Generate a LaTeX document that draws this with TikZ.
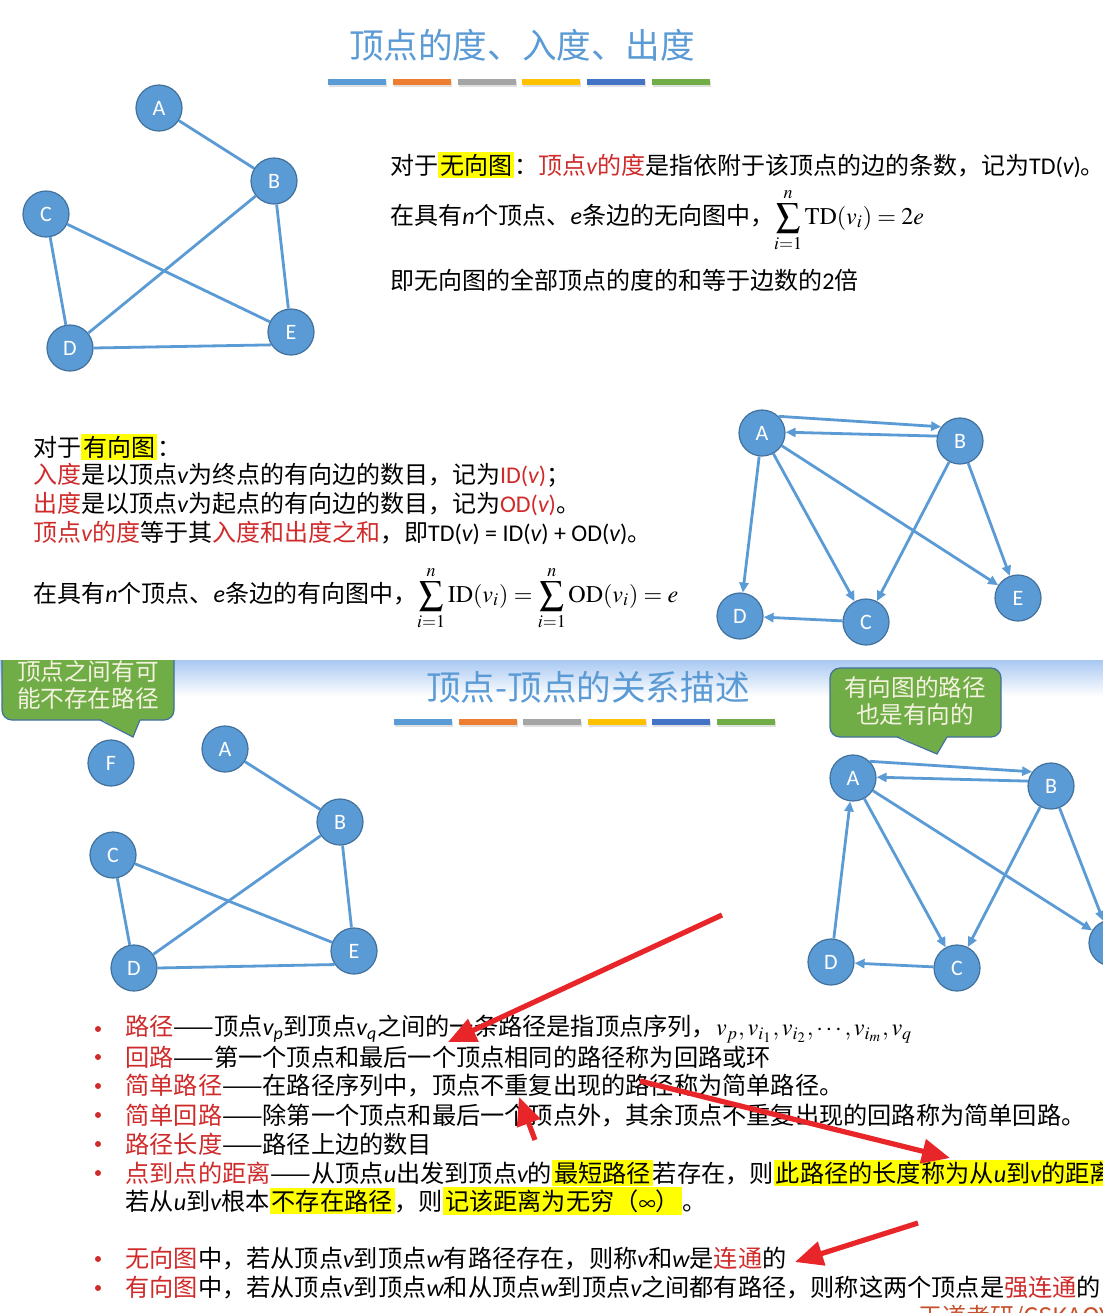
\documentclass[tikz,border=0pt]{standalone}
\usepackage{mathptmx}
\usepackage{fontspec}
\setmainfont{Noto Sans CJK SC}
\newfontfamily\lat{Carlito}
\usetikzlibrary{arrows.meta}

\definecolor{nodeblue}{HTML}{5B9BD5}
\definecolor{nodeline}{HTML}{41719C}
\definecolor{txtred}{HTML}{D02B2B}
\definecolor{hlyellow}{HTML}{FFFF00}
\definecolor{callgreen}{HTML}{70AD47}
\definecolor{calltext}{HTML}{F5F2E0}
\definecolor{arrowred}{HTML}{E8262A}
\definecolor{bandblue}{HTML}{A8C8F2}
\definecolor{footred}{HTML}{C5502A}
\definecolor{barA}{HTML}{5B9BD5}
\definecolor{barB}{HTML}{ED7D31}
\definecolor{barC}{HTML}{A5A5A5}
\definecolor{barD}{HTML}{FFC000}
\definecolor{barE}{HTML}{4472C4}
\definecolor{barF}{HTML}{70AD47}

\newcommand\vv[1]{{\lat\itshape #1}}
\newcommand\rd[1]{\textcolor{txtred}{#1}}
\newcommand\hl[1]{{\setlength\fboxsep{1pt}\colorbox{hlyellow}{#1}}}

\begin{document}
\begin{tikzpicture}[x=0.5pt, y=-0.5pt,
    gnode/.style={circle, fill=nodeblue, draw=nodeline, line width=0.6pt,
      minimum size=23pt, inner sep=0pt, text=white, font=\lat\fontsize{11}{13}\selectfont},
    uedge/.style={draw=nodeblue, line width=1.4pt},
    dedge/.style={uedge, -{Triangle[length=5pt,width=4.5pt]}},
    slidetitle/.style={text=nodeblue, inner sep=0pt, font=\fontsize{17.3}{20}\selectfont},
    toptxt/.style={anchor=west, inner sep=0pt, font=\fontsize{12}{14}\selectfont},
    bottxt/.style={anchor=west, inner sep=0pt, font=\fontsize{12.1}{15}\selectfont},
    callbox/.style={fill=callgreen, draw=nodeline, line width=0.6pt, rounded corners=5pt},
    calledge/.style={draw=nodeline, line width=0.6pt, line join=miter},
    callnote/.style={align=center, inner sep=0pt, text=calltext,
      font=\fontsize{11.8}{13.5}\selectfont},
    redarrow/.style={draw=arrowred, line width=2.6pt, -{Triangle[length=14pt,width=12pt]}}]

    \clip (0,0) rectangle (1103,1313);
    \fill[white] (0,0) rectangle (1103,1313);

    % ---------- top slide ----------
    \node[slidetitle] (toptitle) at (522,45) {顶点的度、入度、出度};
    \foreach \c [count=\i from 0] in {barA,barB,barC,barD,barE,barF} {
        \fill[black!12] (329+\i*64.8,81) rectangle ++(58,6);
        \fill[\c] (328+\i*64.8,79) rectangle ++(58,6);
    }

    % undirected graph
    \node[gnode] (ua) at (159,108) {A};
    \node[gnode] (ub) at (274,181) {B};
    \node[gnode] (uc) at (46,214) {C};
    \node[gnode] (ud) at (70,348) {D};
    \node[gnode] (ue) at (291,332) {E};
    \draw[uedge] (ua) -- (ub);
    \draw[uedge] (ub) -- (ud);
    \draw[uedge] (ub) -- (ue);
    \draw[uedge] (uc) -- (ud);
    \draw[uedge] (uc) -- (ue);
    \draw[uedge] (ud.0) -- (ue.213);

    \node[toptxt] (ut1) at (390,165) {对于\hl{无向图}：\rd{顶点\vv{v}的度}是指依附于该顶点的边的条数，记为{\lat TD(\vv{v})}。};
    \node[toptxt] (ut2) at (390,220) {在具有\vv{n}个顶点、\vv{e}条边的无向图中，$\displaystyle\sum_{i=1}^{n}\mathrm{TD}(v_i)=2e$};
    \node[toptxt] (ut3) at (390,280) {即无向图的全部顶点的度的和等于边数的{\lat 2}倍};

    % directed text
    \node[toptxt] (dt0) at (33,447) {对于\hl{有向图}：};
    \node[toptxt] (dt1) at (33,475) {\rd{入度}是以顶点\vv{v}为终点的有向边的数目，记为\rd{\lat ID(\vv{v})}；};
    \node[toptxt] (dt2) at (33,504) {\rd{出度}是以顶点\vv{v}为起点的有向边的数目，记为\rd{\lat OD(\vv{v})}。};
    \node[toptxt] (dt3) at (33,533) {\rd{顶点\vv{v}的度}等于其\rd{入度和出度之和}，即{\lat TD(\vv{v}) = ID(\vv{v}) + OD(\vv{v})}。};
    \node[toptxt] (dt4) at (33,598) {在具有\vv{n}个顶点、\vv{e}条边的有向图中，$\displaystyle\sum_{i=1}^{n}\mathrm{ID}(v_i)=\sum_{i=1}^{n}\mathrm{OD}(v_i)=e$};

    % directed graph
    \node[gnode] (da) at (762,433) {A};
    \node[gnode] (db) at (960,441) {B};
    \node[gnode] (dc) at (866,622) {C};
    \node[gnode] (dd) at (740,616) {D};
    \node[gnode] (de) at (1018,598) {E};
    \draw[dedge] (da.45) -- (db.143);
    \draw[dedge] (db.168) -- (da.2);
    \draw[dedge] (da) -- (dd);
    \draw[dedge] (da) -- (dc);
    \draw[dedge] (da) -- (de);
    \draw[dedge] (db) -- (dc);
    \draw[dedge] (db) -- (de);
    \draw[dedge] (dc) -- (dd);

    % ---------- bottom slide ----------
    \shade[top color=bandblue, bottom color=white] (0,660) rectangle (1103,696);

    \begin{scope}
        \clip (0,660) rectangle (1103,1313);
        \filldraw[callbox] (2,600) rectangle (174,720);
        \fill[callgreen] (100,719) -- (133,737) -- (140,719) -- cycle;
        \draw[calledge] (100,720) -- (133,737) -- (140,720);
        \node[callnote] (gapnote) at (88,685) {顶点之间有可\\能不存在路径};
    \end{scope}

    \filldraw[callbox] (830,668) rectangle (1001,737);
    \fill[callgreen] (897,736) -- (937,754) -- (947,736) -- cycle;
    \draw[calledge] (897,737) -- (937,754) -- (947,737);
    \node[callnote] (pathnote) at (915,701) {有向图的路径\\也是有向的};

    \node[slidetitle] (bottitle) at (588,687) {顶点-顶点的关系描述};
    \foreach \c [count=\i from 0] in {barA,barB,barC,barD,barE,barF} {
        \fill[black!12] (395+\i*64.6,721) rectangle ++(58,6);
        \fill[\c] (394+\i*64.6,719) rectangle ++(58,6);
    }

    % undirected graph with isolated F
    \node[gnode] (pf) at (111,763) {F};
    \node[gnode] (pa) at (225,749) {A};
    \node[gnode] (pb) at (340,822) {B};
    \node[gnode] (pc) at (113,855) {C};
    \node[gnode] (pd) at (134,968) {D};
    \node[gnode] (pe) at (354,951) {E};
    \draw[uedge] (pa) -- (pb);
    \draw[uedge] (pb) -- (pd);
    \draw[uedge] (pb) -- (pe);
    \draw[uedge] (pc) -- (pd);
    \draw[uedge] (pc) -- (pe);
    \draw[uedge] (pd.0) -- (pe.215);

    % directed graph, E partly off the page
    \node[gnode] (qa) at (853,778) {A};
    \node[gnode] (qb) at (1051,786) {B};
    \node[gnode] (qc) at (957,968) {C};
    \node[gnode] (qd) at (831,962) {D};
    \node[gnode] (qe) at (1112,943) {E};
    \draw[dedge] (qa.45) -- (qb.143);
    \draw[dedge] (qb.168) -- (qa.2);
    \draw[dedge] (qd) -- (qa);
    \draw[dedge] (qa) -- (qc);
    \draw[dedge] (qa) -- (qe);
    \draw[dedge] (qb) -- (qc);
    \draw[dedge] (qb) -- (qe);
    \draw[dedge] (qc) -- (qd);

    % bullet list
    \foreach \y in {1029,1057,1086,1115,1144,1173,1259,1288}
        \fill[txtred] (98,\y) circle (3);
    \node[bottxt] (b1) at (125,1029) {\rd{路径}——顶点\vv{v}\textsubscript{\vv{p}}到顶点\vv{v}\textsubscript{\vv{q}}之间的一条路径是指顶点序列，$v_p, v_{i_1}, v_{i_2}, \cdots, v_{i_m}, v_q$};
    \node[bottxt] (b2) at (125,1057) {\rd{回路}——第一个顶点和最后一个顶点相同的路径称为回路或环};
    \node[bottxt] (b3) at (125,1086) {\rd{简单路径}——在路径序列中，顶点不重复出现的路径称为简单路径。};
    \node[bottxt] (b4) at (125,1115) {\rd{简单回路}——除第一个顶点和最后一个顶点外，其余顶点不重复出现的回路称为简单回路。};
    \node[bottxt] (b5) at (125,1144) {\rd{路径长度}——路径上边的数目};
    \node[bottxt] (b6) at (125,1173) {\rd{点到点的距离}——从顶点\vv{u}出发到顶点\vv{v}的\hl{最短路径}若存在，则\hl{此路径的长度称为从\vv{u}到\vv{v}的距离}};
    \node[bottxt] (b7) at (125,1201) {若从\vv{u}到\vv{v}根本\hl{不存在路径}，则\hl{记该距离为无穷（$\infty$）}。};
    \node[bottxt] (b8) at (125,1259) {\rd{无向图}中，若从顶点\vv{v}到顶点\vv{w}有路径存在，则称\vv{v}和\vv{w}是\rd{连通}的};
    \node[bottxt] (b9) at (125,1288) {\rd{有向图}中，若从顶点\vv{v}到顶点\vv{w}和从顶点\vv{w}到顶点\vv{v}之间都有路径，则称这两个顶点是\rd{强连通}的};

    \node[anchor=north west, inner sep=0pt, text=footred, font=\fontsize{12}{14}\selectfont]
        (footer) at (918,1305) {王道考研/CSKAOYAN.COM};

    % red marks
    \coordinate (r1s) at (722,915);
    \coordinate (r1e) at (448,1042);
    \coordinate (r2s) at (640,1081);
    \coordinate (r2e) at (950,1158);
    \coordinate (r3s) at (535,1140);
    \coordinate (r3e) at (519,1097);
    \coordinate (r4s) at (918,1223);
    \coordinate (r4e) at (795,1262);
    \draw[redarrow] (r1s) -- (r1e);
    \draw[redarrow] (r2s) -- (r2e);
    \draw[redarrow] (r3s) -- (r3e);
    \draw[redarrow] (r4s) -- (r4e);
\end{tikzpicture}
\end{document}
